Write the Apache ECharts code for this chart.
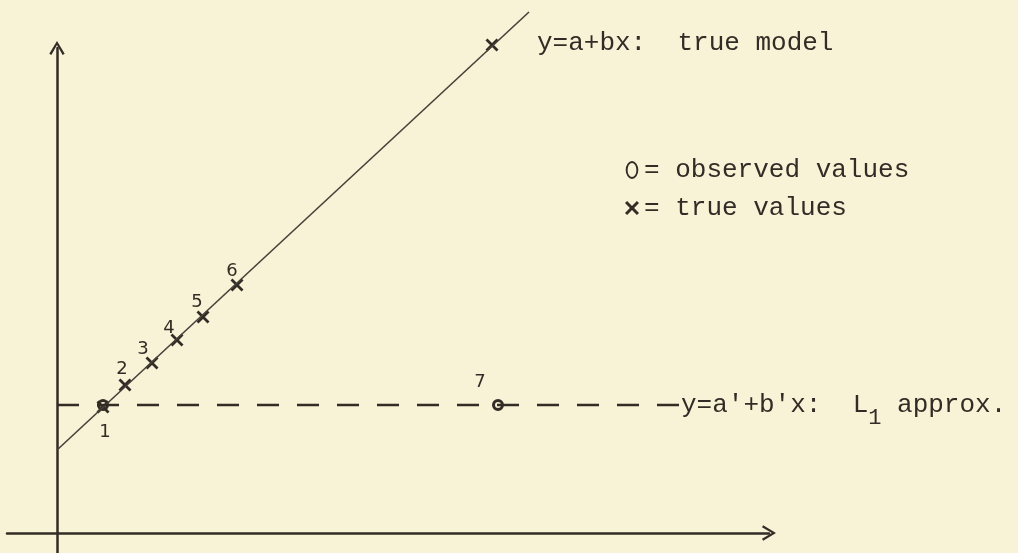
<!DOCTYPE html>
<html>
<head>
<meta charset="utf-8">
<script src="https://cdn.jsdelivr.net/npm/echarts@6/dist/echarts.min.js"></script>
<style>
  html, body { margin: 0; padding: 0; background: #f8f2d6; }
  #chart { width: 1018px; height: 553px; }
</style>
</head>
<body>
<div id="chart"></div>
<script>
// ---- data (diagram units) ----
const pointIds   = ['1', '2', '3', '4', '5', '6', '7'];
const trueX      = [4.6, 6.8, 9.5, 12.0, 14.6, 18.0, 43.5];
const trueY      = [12.6, 14.8, 17.0, 19.3, 21.6, 24.8, 48.8];
const obsIds     = ['1', '7'];
const obsX       = [4.6, 44.1];
const obsY       = [12.8, 12.8];
const trueLineX  = [0, 47.2];
const trueLineY  = [8.3, 52.1];
const l1LineX    = [0, 62.2];
const l1LineY    = [12.8, 12.8];
const trueLabel  = 'y=a+bx:  true model';
const l1Label    = ["y=a'+b'x:  L", '1', ' approx.'];
const legendNames = ['observed values', 'true values'];

// ---- styling ----
const INK = '#332c26';
const MONO = 'Liberation Mono';
const HAND = 'DejaVu Sans';
const xPath = 'path://M0,3 L3,0 L10,7 L17,0 L20,3 L13,10 L20,17 L17,20 L10,13 L3,20 L0,17 L7,10 Z';
const ringPath = 'path://M7,0 A7,10 0 1,1 7,20 A7,10 0 1,1 7,0 Z M7,2.2 A4.9,7.8 0 1,0 7,17.8 A4.9,7.8 0 1,0 7,2.2 Z';
const dotRing = 'path://M10,0 A10,10 0 1,1 10,20 A10,10 0 1,1 10,0 Z M10,5 A5,5 0 1,0 10,15 A5,5 0 1,0 10,5 Z';
const chevron = 'path://M0,10 L6,0 L12,10 L10.4,10.9 L6,3.2 L1.6,10.9 Z';
const numOffsets = { '1': [2, 27], '2': [-3, -16], '3': [-9, -14], '4': [-8, -12], '5': [-6, -15], '6': [-5, -14], '7': [-18, -23] };
const TXT = { fontFamily: MONO, fontSize: 26, color: INK, textBorderWidth: 0 };

const numLabel = (id) => ({
  show: true, position: 'inside', offset: numOffsets[id], formatter: id,
  fontFamily: HAND, fontSize: 18, color: INK, textBorderWidth: 0
});

const trueData = pointIds.map((id, i) => {
  const item = { name: id, value: [trueX[i], trueY[i]] };
  if (id === '7') {
    item.label = Object.assign({ show: true, position: 'inside', align: 'left', offset: [45, -2],
      formatter: trueLabel }, TXT);
  } else if (id !== '1') {
    item.label = numLabel(id);
  }
  return item;
});
const obsData = obsIds.map((id, i) => ({ name: id, value: [obsX[i], obsY[i]], label: numLabel(id) }));

const chart = echarts.init(document.getElementById('chart'), null, { renderer: 'canvas' });
chart.setOption({
  backgroundColor: '#f8f2d6',
  animation: false,
  grid: { left: 7, right: 249, top: 48, bottom: 0 },
  legend: {
    orient: 'vertical', left: 620, top: 152, itemGap: 12,
    itemWidth: 14, itemHeight: 18, selectedMode: false,
    formatter: (n) => '= ' + n,
    textStyle: TXT,
    data: [
      { name: legendNames[0], icon: ringPath, itemStyle: { color: INK, opacity: 1 } },
      { name: legendNames[1], icon: xPath, itemStyle: { color: INK, opacity: 1 } }
    ]
  },
  xAxis: {
    type: 'value', min: -5, max: 71.2,
    axisLine: { show: true, onZero: true, symbol: ['none', chevron], symbolSize: [20, 14],
      lineStyle: { color: INK, width: 2.5 } },
    axisTick: { show: false }, axisLabel: { show: false }, splitLine: { show: false }
  },
  yAxis: {
    type: 'value', min: -2, max: 48.5,
    axisLine: { show: true, onZero: true, symbol: ['none', chevron], symbolSize: [26, 14],
      lineStyle: { color: INK, width: 2.5 } },
    axisTick: { show: false }, axisLabel: { show: false }, splitLine: { show: false }
  },
  series: [
    {
      name: 'true model', type: 'line', clip: false, symbol: 'none', silent: true,
      data: trueLineX.map((x, i) => [x, trueLineY[i]]),
      lineStyle: { color: '#48413a', width: 1.6 }
    },
    {
      name: 'L1 approx.', type: 'line', clip: false, symbol: 'none', silent: true,
      data: l1LineX.map((x, i) => [x, l1LineY[i]]),
      lineStyle: { color: INK, width: 2.4, type: [22, 18], dashOffset: 0 },
      endLabel: {
        show: true, distance: 2,
        formatter: '{t|' + l1Label[0] + '}{s|' + l1Label[1] + '}{t|' + l1Label[2] + '}',
        rich: {
          t: { fontFamily: MONO, fontSize: 26, color: INK, lineHeight: 30, verticalAlign: 'middle' },
          s: { fontFamily: MONO, fontSize: 22, color: INK, lineHeight: 48, verticalAlign: 'bottom' }
        }
      }
    },
    {
      name: 'true values', type: 'scatter', symbol: xPath, symbolSize: 13, clip: false,
      itemStyle: { color: INK, opacity: 1 }, data: trueData
    },
    {
      name: 'observed values', type: 'scatter', symbol: dotRing, symbolSize: 12, clip: false,
      itemStyle: { color: INK, opacity: 1 }, data: obsData
    }
  ]
});
</script>
</body>
</html>
